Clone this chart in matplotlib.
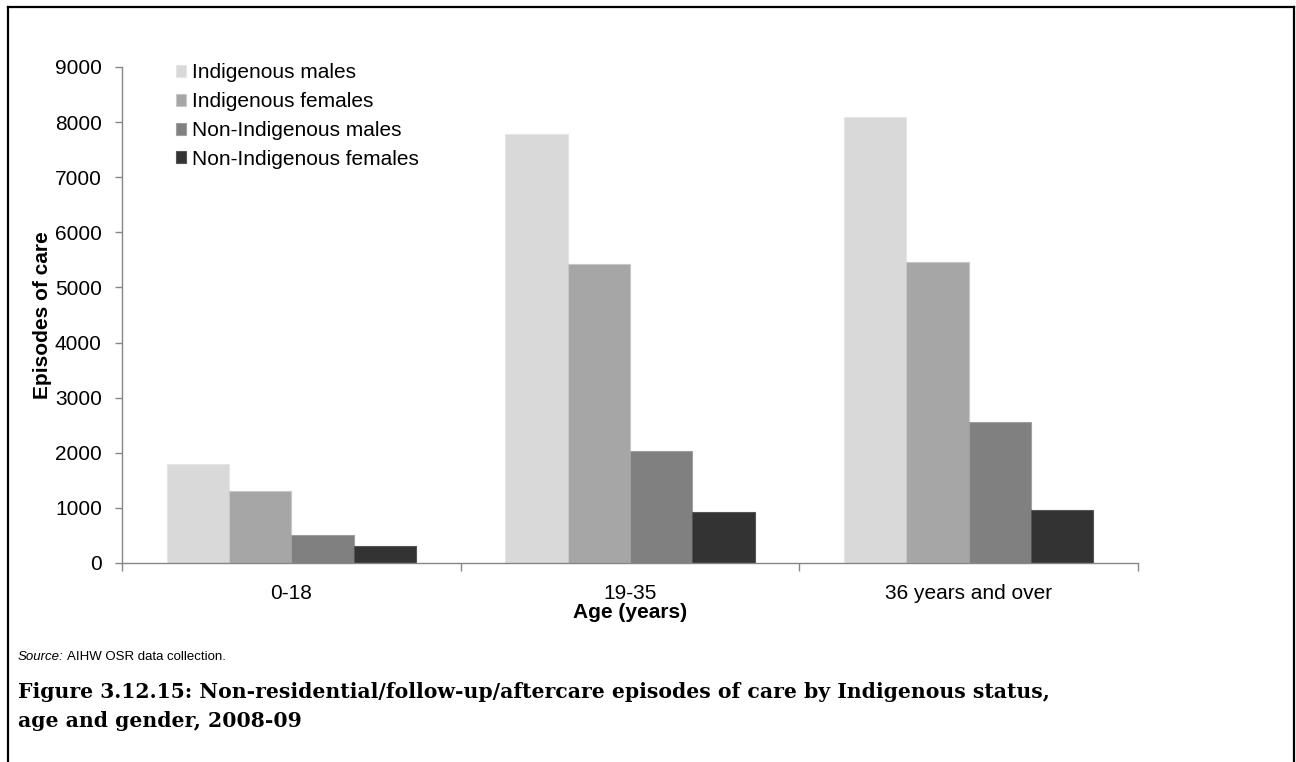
import matplotlib.pyplot as plt
from matplotlib.lines import Line2D
import numpy as np

plt.rcParams['font.family'] = ['Liberation Sans', 'DejaVu Sans']

# Data
age_groups = ['0-18', '19-35', '36 years and over']
series_names = ['Indigenous males', 'Indigenous females',
                'Non-Indigenous males', 'Non-Indigenous females']
indigenous_males = [1800, 7785, 8095]
indigenous_females = [1315, 5425, 5465]
non_indigenous_males = [510, 2025, 2555]
non_indigenous_females = [300, 930, 960]
y_ticks = [0, 1000, 2000, 3000, 4000, 5000, 6000, 7000, 8000, 9000]

colors = ['#d9d9d9', '#a6a6a6', '#808080', '#333333']
edges = ['#e6e6e6', '#c8c8c8', '#a0a0a0', '#555555']

fig = plt.figure(figsize=(12.96, 7.62), dpi=100)
ax = fig.add_axes([122 / 1296, 1 - 563 / 762, (1138 - 122) / 1296, 496 / 762])

x = np.arange(len(age_groups))
width = 0.184
all_series = [indigenous_males, indigenous_females, non_indigenous_males, non_indigenous_females]
for i, (vals, name) in enumerate(zip(all_series, series_names)):
    ax.bar(x + (i - 1.5) * width, vals, width, color=colors[i], label=name,
           edgecolor=edges[i], linewidth=0.8)

ax.set_xlim(-0.5, 2.5)
ax.set_ylim(0, 9000)
ax.set_yticks(y_ticks)
ax.tick_params(axis='y', labelsize=15, length=5, color='#868686', width=1, pad=9.5)

ax.set_xticks(x)
ax.set_xticklabels(age_groups)
ax.set_xticks([-0.5, 0.5, 1.5, 2.5], minor=True)
ax.tick_params(axis='x', which='major', length=0, labelsize=15, pad=15)
ax.tick_params(axis='x', which='minor', length=6, color='#868686', width=1)

for s in ['top', 'right']:
    ax.spines[s].set_visible(False)
for s in ['left', 'bottom']:
    ax.spines[s].set_color('#868686')
    ax.spines[s].set_linewidth(1)

ax.set_ylabel('Episodes of care', fontsize=15, fontweight='bold', labelpad=2)
ax.set_xlabel('Age (years)', fontsize=15, fontweight='bold', labelpad=0)

ax.legend(loc='upper left', bbox_to_anchor=(0.045, 1.024), frameon=False, fontsize=15,
          handlelength=0.5, handleheight=0.5, handletextpad=0.25, labelspacing=0.47,
          borderaxespad=0)

# Source note and caption
fig.text(18 / 1296, 1 - 657 / 762, 'Source:', fontsize=9.5, style='italic', va='center')
fig.text(67 / 1296, 1 - 657 / 762, 'AIHW OSR data collection.', fontsize=9.5, va='center')
cap_font = ['DejaVu Serif']
fig.text(18 / 1296, 1 - 692 / 762,
         'Figure 3.12.15: Non-residential/follow-up/aftercare episodes of care by Indigenous status,',
         fontsize=14.7, fontweight='bold', family=cap_font, va='center')
fig.text(18 / 1296, 1 - 721 / 762, 'age and gender, 2008-09',
         fontsize=14.7, fontweight='bold', family=cap_font, va='center')

# Page frame
fig.add_artist(Line2D([8 / 1296, 8 / 1296], [0, 1 - 7 / 762], color='black', lw=1.6, transform=fig.transFigure))
fig.add_artist(Line2D([8 / 1296, 1294 / 1296], [1 - 7 / 762, 1 - 7 / 762], color='black', lw=1.6, transform=fig.transFigure))
fig.add_artist(Line2D([1294 / 1296, 1294 / 1296], [0, 1 - 7 / 762], color='black', lw=1.6, transform=fig.transFigure))

fig.savefig('out.png', dpi=100)
